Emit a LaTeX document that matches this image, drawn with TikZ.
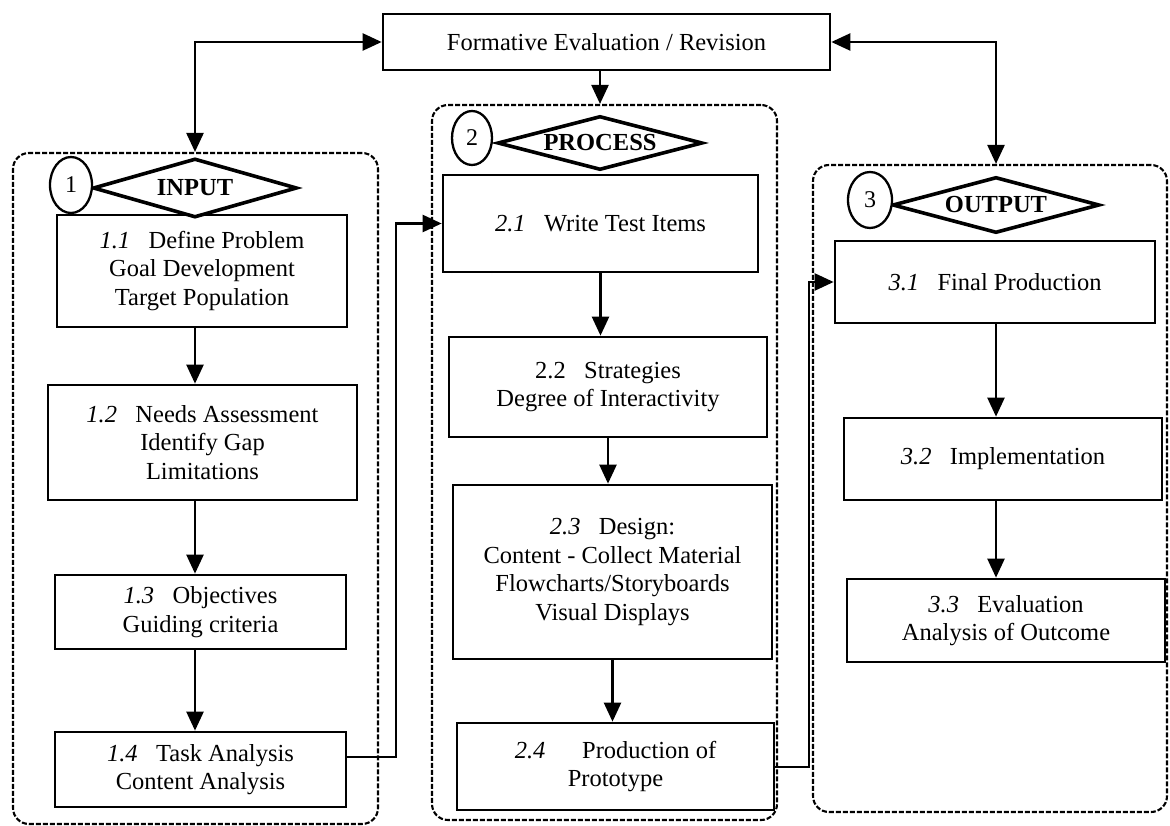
\documentclass[tikz,border=0pt]{standalone}
\usepackage{fontspec}
\setmainfont{Liberation Serif}
\usetikzlibrary{shapes.geometric,arrows.meta}
\newcommand\stepno[1]{\textit{#1}\hspace{0.75em}}
\begin{document}
\begin{tikzpicture}[x=1pt,y=-1pt,
  every node/.style={font=\fontsize{24.5}{28.5}\selectfont},
  box/.style={draw, line width=2.7pt, align=center, inner sep=0pt, fill=white},
  group/.style={draw, dash pattern=on 5pt off 2pt, line width=2.1pt, rounded corners=16pt, inner sep=0pt},
  tag/.style={draw, ellipse, line width=2.3pt, inner sep=0pt, fill=white, font=\fontsize{24}{26}\selectfont},
  phase/.style={draw, diamond, aspect=3.6, line width=3.6pt, inner sep=0pt, fill=white, font=\fontsize{24.5}{28.5}\selectfont\bfseries},
  tip/.tip={Triangle[length=19pt,width=17pt]},
  link/.style={line width=2.4pt, -tip},
  twoway/.style={line width=2.4pt, tip-tip},
]
\useasboundingbox (0,0) rectangle (1170,826);

% dashed phase groups
\node[group, minimum width=365pt, minimum height=671pt] (inC)   at (195.5,488.5) {};
\node[group, minimum width=345pt, minimum height=715pt] (procC) at (604.5,462.5) {};
\node[group, minimum width=354pt, minimum height=647pt] (outC)  at (990,488.5) {};

% evaluation box on top
\node[box, minimum width=447pt, minimum height=56pt] (top) at (606.5,42) {Formative Evaluation / Revision};

% input steps
\node[box, minimum width=290pt, minimum height=112pt] (b11) at (202,271)
  {\stepno{1.1}Define Problem\\Goal Development\\Target Population};
\node[box, minimum width=309pt, minimum height=115pt] (b12) at (202.5,442.5)
  {\stepno{1.2}Needs Assessment\\Identify Gap\\Limitations};
\node[box, minimum width=291pt, minimum height=74pt] (b13) at (200.5,612)
  {\stepno{1.3}Objectives\\Guiding criteria};
\node[box, minimum width=291pt, minimum height=75pt] (b14) at (200.5,769.5)
  {\stepno{1.4}Task Analysis\\Content Analysis};

% process steps
\node[box, minimum width=315pt, minimum height=97pt] (b21) at (600.5,223.5)
  {\stepno{2.1}Write Test Items};
\node[box, minimum width=318pt, minimum height=100pt] (b22) at (608,387)
  {2.2\hspace{0.75em}Strategies\\Degree of Interactivity};
\node[box, minimum width=319pt, minimum height=174pt] (b23) at (612.5,572)
  {\stepno{2.3}Design:\\Content - Collect Material\\Flowcharts/Storyboards\\Visual Displays};
\node[box, minimum width=317pt, minimum height=87pt] (b24) at (615.5,766.5)
  {\textit{2.4}\hspace{1.5em}Production of\\Prototype};

% output steps
\node[box, minimum width=320pt, minimum height=82pt] (b31) at (995,282)
  {\stepno{3.1}Final Production};
\node[box, minimum width=318pt, minimum height=82pt] (b32) at (1003,459)
  {\stepno{3.2}Implementation};
\node[box, minimum width=318pt, minimum height=83pt] (b33) at (1006,620.5)
  {\stepno{3.3}Evaluation\\Analysis of Outcome};

% phase labels
\node[phase, minimum width=204pt, minimum height=59pt] (d1) at (195,188) {INPUT};
\node[phase, minimum width=205pt, minimum height=54pt] (d2) at (600,143) {PROCESS};
\node[phase, minimum width=207pt, minimum height=56pt] (d3) at (996,205) {OUTPUT};
\node[tag, minimum width=42pt, minimum height=56pt] (e1) at (71,185) {1};
\node[tag, minimum width=40pt, minimum height=54pt] (e2) at (472,138) {2};
\node[tag, minimum width=44pt, minimum height=56pt] (e3) at (870,200) {3};

% feedback links to the evaluation box
\draw[twoway] (top.west) -| (d1 |- inC.north);
\draw[twoway] (top.east) -| (d3 |- outC.north);
\draw[link] (d2 |- top.south) -- (d2 |- procC.north);

% flow inside the input group
\draw[link] (d1 |- b11.south) -- (d1 |- b12.north);
\draw[link] (d1 |- b12.south) -- (d1 |- b13.north);
\draw[link] (d1 |- b13.south) -- (d1 |- b14.north);

% flow inside the process group
\draw[link] (b21.south) -- (b21.south |- b22.north);
\draw[link] (b22.south) -- (b22.south |- b23.north);
\draw[link] (b23.south) -- (b23.south |- b24.north);

% flow inside the output group
\draw[link] (d3 |- b31.south) -- (d3 |- b32.north);
\draw[link] (d3 |- b32.south) -- (d3 |- b33.north);

% hand-over between groups
\coordinate (j1) at (396,757);
\coordinate (j2) at (809,767);
\draw[link] (b14.east |- j1) -- (j1) |- (b21.west);
\draw[link] (b24.east |- j2) -- (j2) |- (b31.west);
\end{tikzpicture}
\end{document}
